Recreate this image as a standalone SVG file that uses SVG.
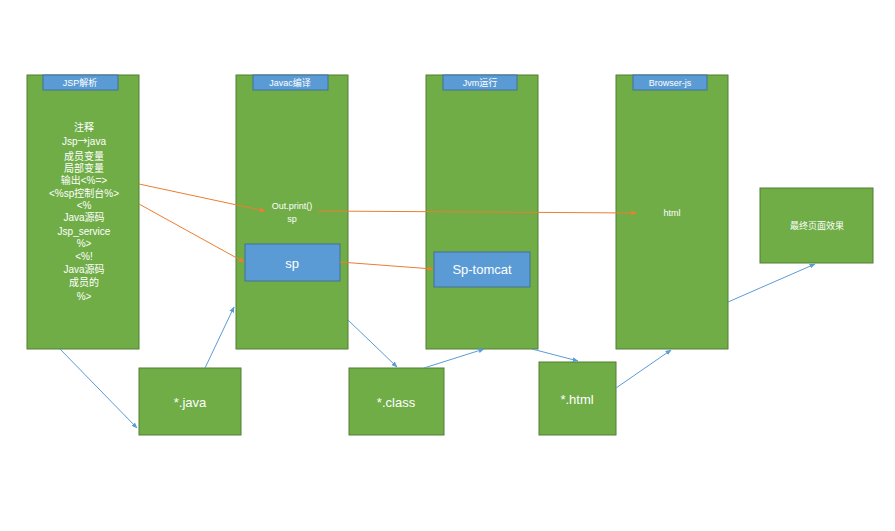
<svg xmlns="http://www.w3.org/2000/svg" width="895" height="531" viewBox="0 0 895 531">
<style>
.g{fill:#70AD47;stroke:#507E32;stroke-width:1}
.b{fill:#5B9BD5;stroke:#41719C;stroke-width:1}
text{font-family:"Liberation Sans","Noto Sans CJK SC",sans-serif;fill:#fff;text-anchor:middle}
.t{font-size:9px}
.s{font-size:10px}
.m{font-size:13px}
.o{stroke:#ED7D31;stroke-width:1;fill:none;marker-end:url(#ao)}
.l{stroke:#5B9BD5;stroke-width:1;fill:none;marker-end:url(#ab)}
</style>
<defs>
<marker id="ao" viewBox="0 0 10 10" refX="9" refY="5" markerWidth="6" markerHeight="6" orient="auto"><path d="M0,1 L10,5 L0,9 z" fill="#ED7D31"/></marker>
<marker id="ab" viewBox="0 0 10 10" refX="9" refY="5" markerWidth="6" markerHeight="6" orient="auto"><path d="M0,1 L10,5 L0,9 z" fill="#5B9BD5"/></marker>
</defs>
<rect width="895" height="531" fill="#fff"/>
<g id="jsp">
<rect class="g" x="27" y="75" width="112" height="274"/>
<rect class="b" x="43" y="75" width="75" height="15"/>
<text class="t" x="80" y="86">JSP解析</text>
<text class="s" x="84" y="131">注释</text>
<text class="s" x="84" y="145">Jsp<tspan style="font-family:'Noto Sans CJK SC',sans-serif">→</tspan>java</text>
<text class="s" x="84" y="160">成员变量</text>
<text class="s" x="84" y="172">局部变量</text>
<text class="s" x="84" y="184">输出&lt;%=&gt;</text>
<text class="s" x="84" y="197">&lt;%sp控制台%&gt;</text>
<text class="s" x="84" y="209">&lt;%</text>
<text class="s" x="84" y="221">Java源码</text>
<text class="s" x="84" y="235">Jsp_service</text>
<text class="s" x="84" y="247">%&gt;</text>
<text class="s" x="84" y="260">&lt;%!</text>
<text class="s" x="84" y="273">Java源码</text>
<text class="s" x="84" y="286">成员的</text>
<text class="s" x="84" y="300">%&gt;</text>
</g>
<g id="javac">
<rect class="g" x="236" y="75" width="112" height="274"/>
<rect class="b" x="253" y="75" width="75" height="15"/>
<text class="t" x="290" y="86">Javac编译</text>
<text class="t" x="292" y="209">Out.print()</text>
<text class="t" x="292" y="222">sp</text>
</g>
<g id="sp">
<rect class="b" x="245" y="244" width="95" height="37"/>
<text class="m" x="292" y="268">sp</text>
</g>
<g id="jvm">
<rect class="g" x="426" y="75" width="112" height="274"/>
<rect class="b" x="443" y="75" width="74" height="15"/>
<text class="t" x="480" y="86">Jvm运行</text>
</g>
<g id="tomcat">
<rect class="b" x="434" y="252" width="96" height="35"/>
<text class="m" x="482" y="274">Sp-tomcat</text>
</g>
<g id="browser">
<rect class="g" x="616" y="75" width="112" height="274"/>
<rect class="b" x="633" y="75" width="74" height="15"/>
<text class="t" x="670" y="86">Browser-js</text>
<text class="t" x="672" y="216">html</text>
</g>
<g id="final">
<rect class="g" x="760" y="188" width="113" height="75"/>
<text class="t" x="817" y="229">最终页面效果</text>
</g>
<g id="java">
<rect class="g" x="139" y="368" width="102" height="67"/>
<text class="m" x="190" y="407">*.java</text>
</g>
<g id="class">
<rect class="g" x="349" y="368" width="95" height="67"/>
<text class="m" x="396" y="407">*.class</text>
</g>
<g id="html">
<rect class="g" x="539" y="362" width="77" height="73"/>
<text class="m" x="577" y="404">*.html</text>
</g>
<g id="connectors">
<line class="o" x1="139" y1="184" x2="265" y2="211"/>
<line class="o" x1="139" y1="204" x2="244" y2="262"/>
<line class="o" x1="318" y1="211" x2="636" y2="213"/>
<line class="o" x1="340" y1="262" x2="433" y2="269"/>
<line class="l" x1="60" y1="349" x2="137" y2="428"/>
<line class="l" x1="205" y1="368" x2="234" y2="307"/>
<line class="l" x1="348" y1="320" x2="397" y2="367"/>
<line class="l" x1="424" y1="368" x2="484" y2="349"/>
<line class="l" x1="532" y1="349" x2="578" y2="361"/>
<line class="l" x1="616" y1="388" x2="671" y2="350"/>
<line class="l" x1="728" y1="302" x2="815" y2="264"/>
</g>
</svg>
